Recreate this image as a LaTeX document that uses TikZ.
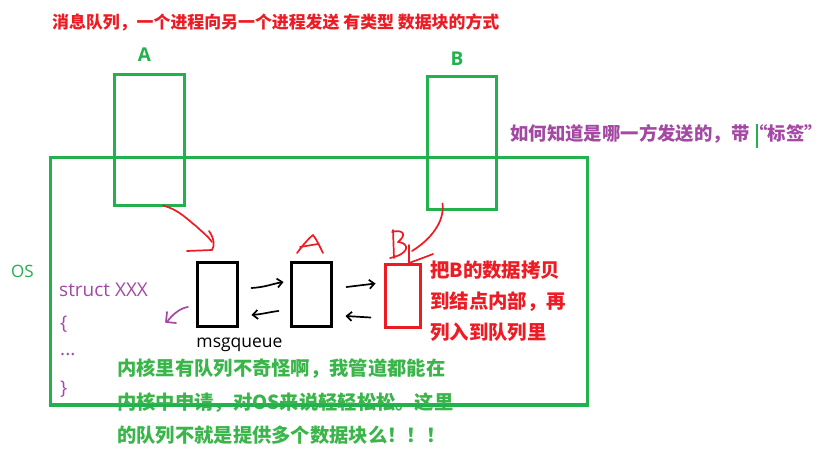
\documentclass[tikz,border=0pt]{standalone}
\usepackage{fontspec}
\setmainfont{Noto Sans CJK SC}
\newfontfamily\latin{Open Sans}
\usetikzlibrary{arrows.meta,calc}
\definecolor{pred}{HTML}{ED1C24}
\definecolor{pgreen}{HTML}{22B14C}
\definecolor{tgreen}{HTML}{3AB54A}
\definecolor{ppurple}{HTML}{A349A4}
\tikzset{
  gbox/.style={draw=pgreen,line width=3pt,inner sep=0},
  qbox/.style={draw=black,line width=3pt,inner sep=0,minimum width=40pt,minimum height=64pt},
  rbox/.style={draw=pred,line width=3pt,inner sep=0,minimum width=35pt,minimum height=63pt},
  txt/.style={inner sep=0,anchor=west},
  hand/.style={line width=1.7pt,line cap=round,line join=round},
  harrow/.style={hand,-{Straight Barb[length=5pt,width=9pt]}},
}
\begin{document}
\begin{tikzpicture}[x=1pt,y=-1pt]
\useasboundingbox[fill=white] (0,0) rectangle (826,454);
% title
\node[txt,text=pred,font=\fontsize{16.9}{20}\selectfont\bfseries] (title) at (52,22) {消息队列，一个进程向另一个进程发送 有类型 数据块的方式};
% process boxes
\node[gbox,minimum width=70pt,minimum height=131pt] (pA) at (149,140.5) {};
\node[gbox,minimum width=69pt,minimum height=133pt] (pB) at (461.5,143.5) {};
\node[text=pgreen,font=\latin\fontsize{19}{22}\selectfont\bfseries,inner sep=0] (labA) at (144.5,55) {A};
\node[text=pgreen,font=\latin\fontsize{19}{22}\selectfont\bfseries,inner sep=0] (labB) at (457,59) {B};
% OS
\node[gbox,minimum width=537pt,minimum height=246pt] (os) at (318.5,281) {};
\node[txt,text=pgreen,font=\latin\fontsize{17}{20}\selectfont] (oslab) at (11,271) {OS};
% tag text
\node[txt,text=ppurple,font=\fontsize{18.4}{20}\selectfont\bfseries] (tag) at (510,134) {如何知道是哪一方发送的，带“标签”};
\coordinate (cursorTop) at (757,124);
\coordinate (cursorBot) at (757,148);
\draw[pgreen,line width=1.2pt] (cursorTop) -- (cursorBot);
% struct
\node[txt,text=ppurple,font=\latin\fontsize{19}{22}\selectfont] (st1) at (59,290) {struct XXX};
\node[txt,text=ppurple,font=\latin\fontsize{19}{22}\selectfont] (st2) at (60,324) {\{};
\node[txt,text=ppurple,font=\latin\fontsize{19}{22}\selectfont] (st3) at (60,355) {...};
\node[txt,text=ppurple,font=\latin\fontsize{19}{22}\selectfont] (st4) at (60,389) {\}};
% queue
\node[qbox] (q1) at (217,294) {};
\node[qbox] (q2) at (311,294) {};
\node[rbox] (q3) at (402.5,295.5) {};
\node[text=black,font=\latin\fontsize{17.5}{20}\selectfont,inner sep=0] (msg) at (239.5,345) {msgqueue};
% black arrows
\draw[harrow] ($(q1.east)+(13,-6)$) .. controls ($(q1.east)+(28,-7)$) and ($(q2.west)+(-18,-10)$) .. ($(q2.west)+(-6,-12)$);
\draw[harrow] ($(q2.east)+(14,-7)$) -- ($(q3.west)+(-8,-12)$);
\draw[harrow] ($(q2.west)+(-11,17)$) .. controls ($(q2.west)+(-20,18)$) and ($(q1.east)+(25,20)$) .. ($(q1.east)+(13,21)$);
\draw[harrow] ($(q3.west)+(-13,22)$) -- ($(q2.east)+(13,22)$);
% purple arrow
\coordinate (pt0) at (188,307);
\draw[hand,ppurple] (pt0) .. controls (180,308) and (172,315) .. (167,322);
\draw[hand,ppurple] (167,312) -- (166,322) -- (176,323);
% red hand arrow from A
\draw[hand,pred] ($(pA.south)+(14,-2)$) .. controls (180,210) and (190,222) .. (196,226) .. controls (202,232) and (208,236) .. (212,242);
\draw[hand,pred] (209,231) .. controls (214,238) and (215,246) .. (212,250) -- (187,251);
% red A
\draw[hand,pred] (297,253) .. controls (303,245) and (309,238) .. (313,235) .. controls (317,240) and (320,247) .. (323,253);
\draw[hand,pred] (300,247) -- (318,244);
% red B and arrow from B
\draw[hand,pred] (393,230) -- (394,258);
\draw[hand,pred] (392,232) .. controls (402,229) and (408,234) .. (398,242) .. controls (410,243) and (410,254) .. (390,258);
\draw[hand,pred] ($(pB.south)+(-19,-8)$) .. controls (445,222) and (430,240) .. (412,251);
\draw[hand,pred] (409,245) -- (409,263) .. controls (420,259) and (428,256) .. (433,254);
% red note
\node[txt,text=pred,font=\fontsize{19.4}{22}\selectfont\bfseries] (n1) at (430,270) {把B的数据拷贝};
\node[txt,text=pred,font=\fontsize{19.4}{22}\selectfont\bfseries] (n2) at (430,302) {到结点内部，再};
\node[txt,text=pred,font=\fontsize{19.4}{22}\selectfont\bfseries] (n3) at (430,332) {列入到队列里};
% green note
\node[txt,text=tgreen,font=\fontsize{19.3}{22}\selectfont\bfseries] (g1) at (117,369) {内核里有队列不奇怪啊，我管道都能在};
\node[txt,text=tgreen,font=\fontsize{19.3}{22}\selectfont\bfseries] (g2) at (117,403) {内核中申请，对OS来说轻轻松松。这里};
\node[txt,text=tgreen,font=\fontsize{19.3}{22}\selectfont\bfseries] (g3) at (117,435) {的队列不就是提供多个数据块么！！！};
% redraw OS bottom line over the text
\draw[pgreen,line width=3pt] (os.south west) -- (os.south east);
\end{tikzpicture}
\end{document}
